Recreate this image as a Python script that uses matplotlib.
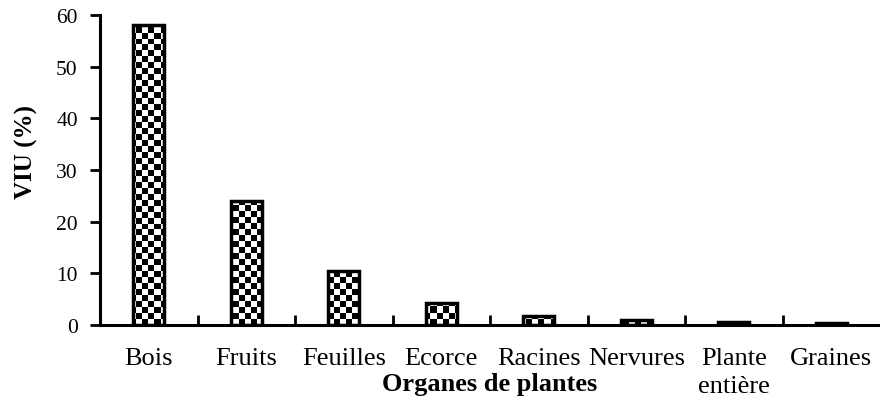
import matplotlib
matplotlib.use("Agg")
import matplotlib.pyplot as plt
import numpy as np

# Data
organes = ["Bois", "Fruits", "Feuilles", "Ecorce", "Racines", "Nervures",
           "Plante\nentière", "Graines"]
viu = [58.0, 24.0, 10.5, 4.3, 1.8, 1.0, 0.5, 0.3]

plt.rcParams["font.family"] = ["Liberation Serif", "DejaVu Serif"]

fig = plt.figure(figsize=(8.8, 4.02), dpi=100)
ax = fig.add_axes([100 / 880, 76 / 402, 780 / 880, 310 / 402])

x = np.arange(len(organes))
bars = ax.bar(x, viu, width=0.32, facecolor="none", edgecolor="black",
              linewidth=2.5, zorder=3)

# checkerboard fill, clipped to each bar
ncol, nrow = 130, 52
checker = (np.indices((nrow, ncol)).sum(axis=0) % 2).astype(float)
for b in bars:
    im = ax.imshow(checker, cmap="gray", interpolation="nearest",
                   extent=[0, 1, 0, 1], transform=ax.transAxes,
                   aspect="auto", zorder=2)
    im.set_clip_path(b)

ax.set_xlim(-0.5, len(organes) - 0.5)
ax.set_ylim(0, 60)
ax.set_yticks(np.arange(0, 61, 10))
ax.set_xticks(x)
ax.set_xticklabels(organes, fontsize=19, linespacing=1.35)
ax.set_xticks(np.arange(0.5, len(organes) - 0.5, 1), minor=True)

ax.tick_params(axis="x", which="major", length=0, pad=16)
ax.tick_params(axis="x", which="minor", direction="in", length=7, width=2)
ax.tick_params(axis="y", direction="out", length=7, width=2, pad=9,
               labelsize=15.5)

for side in ["top", "right"]:
    ax.spines[side].set_visible(False)
for side in ["left", "bottom"]:
    ax.spines[side].set_linewidth(2.2)

ax.set_ylabel("VIU (%)", fontweight="bold", fontsize=18)
ax.set_xlabel("Organes de plantes", fontweight="bold", fontsize=19)
ax.xaxis.set_label_coords(0.5, -0.152)
ax.yaxis.set_label_coords(-0.08, 0.56)

fig.savefig("out.png", dpi=100)
